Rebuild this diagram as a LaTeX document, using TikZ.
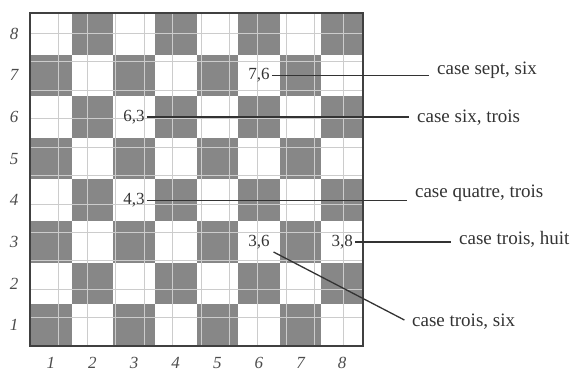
\documentclass[tikz,border=0pt]{standalone}
\usepackage{fontspec}
\setmainfont{Liberation Serif}
\usetikzlibrary{positioning}

\tikzset{
  darksq/.style={fill=black!47},
  numlbl/.style={font=\fontsize{17}{18}\selectfont, text=black!80, inner sep=2pt},
  caselbl/.style={font=\fontsize{19}{21}\selectfont, text=black!80, anchor=west, inner sep=4pt},
  axislbl/.style={font=\fontsize{17}{18}\selectfont\itshape, text=black!70, inner sep=1pt},
  pointer/.style={line width=1.3pt, black!80, shorten >=4pt}
}

\begin{document}
\begin{tikzpicture}[x=41.625pt,y=41.625pt]
    \useasboundingbox (-0.7207,-0.6006) rectangle (13.309,8.3123);

    % Squares
    \foreach \r in {1,...,8} {
        \foreach \c in {1,...,8} {
            \pgfmathtruncatemacro{\parity}{mod(\r+\c,2)}
            \ifnum\parity=0
                \fill[darksq] (\c-1,\r-1) rectangle (\c,\r);
            \fi
        }
    }
    \draw[black!20, line width=0.4pt] (0,0) grid (8,8);

    % Frame
    \draw[line width=1.2pt, black!75] (0,0) rectangle (8,8);

    % Row and column numbers
    \foreach \n in {1,...,8} {
        \node[axislbl] (row\n) at (-0.384,\n-0.5) {\n};
        \node[axislbl] (col\n) at (\n-0.5,-0.40) {\n};
    }

    % Marked squares
    \node[numlbl] (sq76) at (5.5,6.5) {7,6};
    \node[numlbl] (sq63) at (2.5,5.5) {6,3};
    \node[numlbl] (sq43) at (2.5,3.5) {4,3};
    \node[numlbl] (sq36) at (5.5,2.5) {3,6};
    \node[numlbl] (sq38) at (7.5,2.5) {3,8};

    % Names
    \node[caselbl] (case76) at (9.68,6.63) {case sept, six};
    \node[caselbl] (case63) at (9.20,5.48) {case six, trois};
    \node[caselbl] (case43) at (9.15,3.68) {case quatre, trois};
    \node[caselbl] (case38) at (10.21,2.55) {case trois, huit};
    \node[caselbl] (case36) at (9.08,0.58) {case trois, six};

    % Pointers
    \draw[pointer] (sq76.east) -- (sq76.east -| case76.west);
    \draw[pointer] (sq63.east) -- (sq63.east -| case63.west);
    \draw[pointer] (sq43.east) -- (sq43.east -| case43.west);
    \draw[pointer] (sq38.east) -- (sq38.east -| case38.west);
    \draw[pointer, shorten <=2pt] (sq36.south east) -- (case36.west);
\end{tikzpicture}
\end{document}
